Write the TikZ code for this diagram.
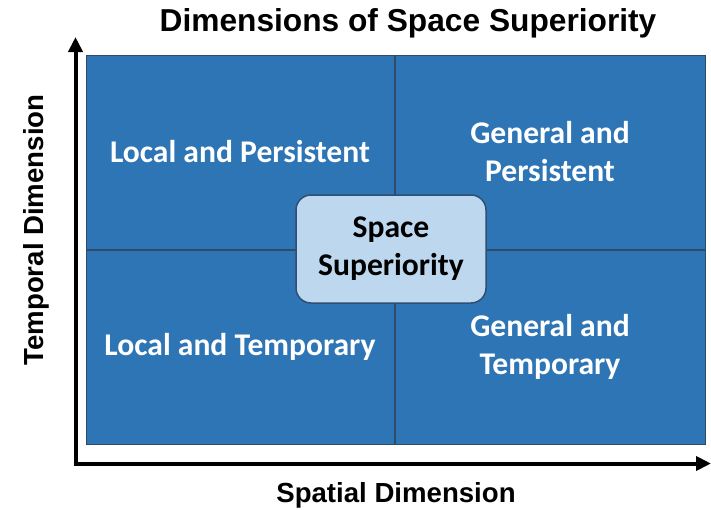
\documentclass[tikz,border=0pt]{standalone}
\usepackage{fontspec}
\setmainfont{Carlito}
\newfontfamily\arialfont{Liberation Sans}
\usetikzlibrary{positioning,arrows.meta}
\definecolor{quadblue}{HTML}{2E75B6}
\definecolor{quadedge}{HTML}{2F4B68}
\definecolor{corefill}{HTML}{BDD7EE}
\definecolor{coreedge}{HTML}{2F4F73}

\begin{document}
\begin{tikzpicture}[x=1pt, y=-1pt, node distance=0pt,
  quad/.style = {draw=quadedge, line width=1pt, fill=quadblue, text=white, inner sep=0pt, minimum height=194pt, align=center, font=\bfseries\fontsize{31.6}{38}\selectfont},
  core/.style = {draw=coreedge, line width=1.5pt, fill=corefill, rounded corners=15pt, minimum width=190pt, minimum height=108pt, align=center, font=\bfseries\fontsize{31.6}{38}\selectfont},
  axis/.style = {line width=4pt, {Triangle[length=15pt,width=14pt]}-{Triangle[length=15pt,width=14pt]}},
  heading/.style = {font=\arialfont\bfseries\fontsize{31.7}{36}\selectfont},
  axislabel/.style = {font=\arialfont\bfseries\fontsize{27.6}{32}\selectfont}]
  \useasboundingbox (0,0) rectangle (711,509);

  \node[quad, minimum width=308pt] (lp) at (240,152) {Local and Persistent};
  \node[quad, minimum width=310pt] (gp) [right=of lp] {General and\\Persistent};
  \node[quad, minimum width=308pt] (lt) [below=of lp] {Local and Temporary};
  \node[quad, minimum width=310pt] (gt) [right=of lt] {General and\\Temporary};
  \node[core] (ss) at (391,249) {Space\\Superiority};

  \coordinate (ytip) at (75.5,37);
  \coordinate (xtip) at (711,463.5);
  \draw[axis] (ytip) |- (xtip);

  \node[heading] (title) at (408,23) {Dimensions of Space Superiority};
  \node[axislabel] (xlabel) at (396,495) {Spatial Dimension};
  \node[axislabel, rotate=90] (ylabel) at (36,230) {Temporal Dimension};
\end{tikzpicture}
\end{document}
